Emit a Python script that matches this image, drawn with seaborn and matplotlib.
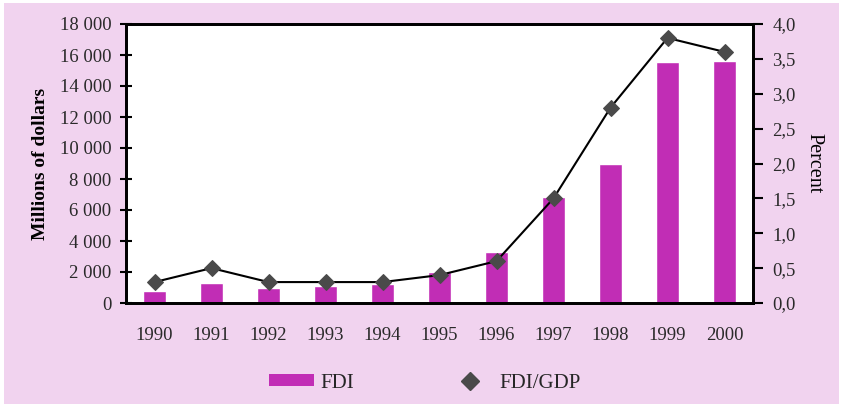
import matplotlib
matplotlib.use("Agg")
import matplotlib.pyplot as plt
import matplotlib.patches as mpatches
from matplotlib.lines import Line2D
import seaborn as sns
import pandas as pd

# FDI inflows (millions of dollars) and FDI as a share of GDP (percent)
years = ["1990", "1991", "1992", "1993", "1994", "1995", "1996", "1997", "1998", "1999", "2000"]
fdi = [800, 1300, 950, 1100, 1200, 2000, 3300, 6850, 8950, 15550, 15600]
fdi_gdp = [0.3, 0.5, 0.3, 0.3, 0.3, 0.4, 0.6, 1.5, 2.8, 3.8, 3.6]

left_ticks = [0, 2000, 4000, 6000, 8000, 10000, 12000, 14000, 16000, 18000]
left_labels = ["0", "2 000", "4 000", "6 000", "8 000", "10 000", "12 000", "14 000", "16 000", "18 000"]
right_ticks = [0.0, 0.5, 1.0, 1.5, 2.0, 2.5, 3.0, 3.5, 4.0]
right_labels = ["0,0", "0,5", "1,0", "1,5", "2,0", "2,5", "3,0", "3,5", "4,0"]

df = pd.DataFrame({"year": years, "fdi": fdi, "ratio": fdi_gdp})

sns.set_theme(style="white")
plt.rcParams["font.family"] = ["Liberation Serif", "DejaVu Serif"]

BAR = "#C12DB5"
PINK = "#F1D3EF"
MARK = "#4A4A4A"
TXT = "#2a2a2a"

fig = plt.figure(figsize=(8.43, 4.07), dpi=100)
fig.patch.set_facecolor("white")
fig.patches.append(mpatches.Rectangle((4 / 843, 3 / 407), 835 / 843, 401 / 407,
                                      transform=fig.transFigure, facecolor=PINK,
                                      edgecolor="none", zorder=-10))

ax = fig.add_axes([126 / 843, 1 - 303 / 407, 627 / 843, 279 / 407])
ax.set_facecolor("white")

sns.barplot(data=df, x="year", y="fdi", color=BAR, saturation=1, width=0.42, ax=ax)
ax.set_ylim(0, 18000)
ax.set_yticks(left_ticks)
ax.set_yticklabels(left_labels)
ax.set_xlabel("")
ax.set_ylabel("Millions of dollars", fontsize=14, fontweight="bold", labelpad=8, color="black")
ax.set_xlim(-0.5, len(years) - 0.5)
ax.set_xticks([i - 0.5 for i in range(1, len(years))], minor=True)
ax.tick_params(axis="x", which="major", length=0, labelsize=13.5, pad=17, colors=TXT)
ax.tick_params(axis="x", which="minor", length=9, width=1.5, direction="inout", color="black")
ax.tick_params(axis="y", length=9, width=1.5, direction="inout", labelsize=13.5, pad=6, colors=TXT)
ax.tick_params(axis="y", color="black")

ax2 = ax.twinx()
sns.lineplot(x=list(range(len(years))), y=fdi_gdp, ax=ax2, color="black", lw=1.5,
             marker="D", markersize=8.5, markerfacecolor=MARK, markeredgecolor=MARK)
ax2.set_ylim(0, 4.0)
ax2.set_yticks(right_ticks)
ax2.set_yticklabels(right_labels)
ax2.set_ylabel("Percent", fontsize=14.5, rotation=270, labelpad=20, color="black")
ax2.tick_params(axis="y", length=7, width=1.5, direction="out", labelsize=13.5, pad=7, colors=TXT)
ax2.tick_params(axis="y", color="black")

for a in (ax, ax2):
    for s in a.spines.values():
        s.set_visible(True)
        s.set_color("black")
        s.set_linewidth(2)

handles = [mpatches.Patch(facecolor=BAR, edgecolor="none"),
           Line2D([], [], lw=0, marker="D", markersize=9, markerfacecolor=MARK, markeredgecolor=MARK)]
fig.legend(handles, ["FDI", "FDI/GDP"], loc="center", bbox_to_anchor=(0.504, 1 - 383 / 407),
           ncol=2, frameon=False, fontsize=15, columnspacing=4.5, handlelength=2.15,
           handleheight=0.5, handletextpad=0.3)

fig.savefig("out.png", dpi=100)
